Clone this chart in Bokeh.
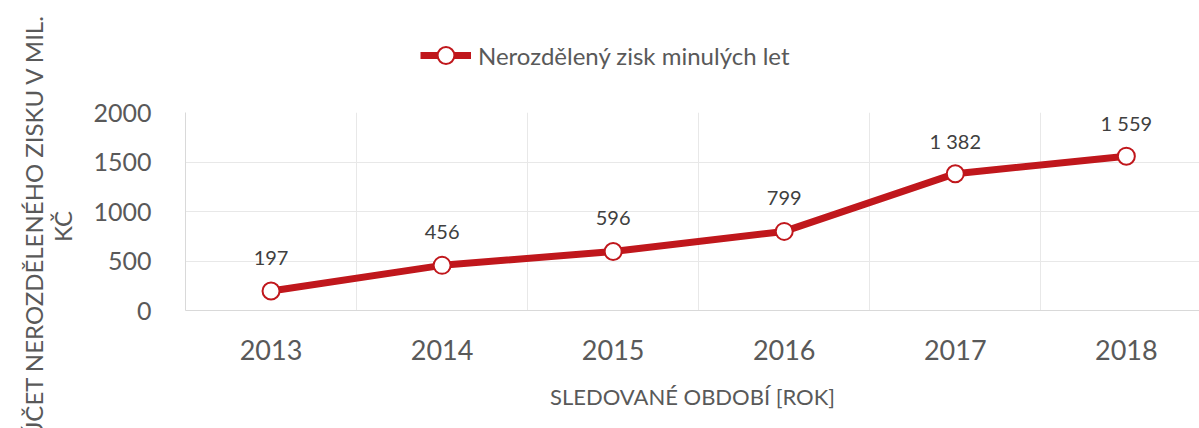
import math
from bokeh.plotting import figure
from bokeh.layouts import row, column
from bokeh.models import (Range1d, FixedTicker, LabelSet, Label, ColumnDataSource,
                          Legend, LegendItem)
from bokeh.core.properties import value
from bokeh.embed import file_html
from bokeh.resources import INLINE

years = [2013, 2014, 2015, 2016, 2017, 2018]
values = [197, 456, 596, 799, 1382, 1559]
value_labels = ["197", "456", "596", "799", "1 382", "1 559"]
y_ticks = [0, 500, 1000, 1500, 2000]
series_name = "Nerozdělený zisk minulých let"
x_title = "SLEDOVANÉ OBDOBÍ [ROK]"
y_title_lines = ["ÚČET NEROZDĚLENÉHO ZISKU V MIL.", "KČ"]

FONT = "Lato"
TXT = "#595959"
RED = "#C0171C"

W, H = 1199, 428
LBL_W = 90          # strip for the vertical axis title
LEG_H = 90          # strip for the legend
main_w = W - LBL_W
main_h = H - LEG_H
left, right, top, bottom = 93, 0, 22, 118
frame_w = main_w - left - right
px_per_year = 171.4


def bare(fig):
    fig.outline_line_color = None
    fig.background_fill_color = "white"
    fig.border_fill_color = "white"
    fig.xgrid.visible = False
    fig.ygrid.visible = False
    return fig


# ---- vertical axis title strip
lab = bare(figure(width=LBL_W, height=H, output_backend="svg", toolbar_location=None,
                  x_axis_location=None, y_axis_location=None,
                  min_border=0, x_range=Range1d(0, LBL_W), y_range=Range1d(0, H)))
for xpos, txt in zip([33, 62], y_title_lines):
    lab.add_layout(Label(x=xpos, y=H - 226, text=txt, angle=math.pi / 2,
                         text_align="center", text_baseline="middle",
                         text_font=FONT, text_font_size="24px",
                         text_color=TXT))

# ---- legend strip (series renderers kept outside the visible range; only the legend shows)
leg = bare(figure(width=main_w, height=LEG_H, output_backend="svg", toolbar_location=None,
                  x_axis_location=None, y_axis_location=None,
                  min_border=0, x_range=Range1d(0, 1), y_range=Range1d(-2, -1)))
lsrc = ColumnDataSource(dict(x=years, y=values))
lg_line = leg.line("x", "y", source=lsrc, line_color=RED, line_width=7)
lg_dot = leg.scatter("x", "y", source=lsrc, size=17, fill_color="white",
                     line_color=RED, line_width=2)
legend = Legend(items=[LegendItem(label=series_name, renderers=[lg_line, lg_dot])],
                location=(420 - LBL_W - 95, LEG_H - 55 - 21), orientation="horizontal",
                padding=0, margin=0, spacing=0,
                glyph_width=51, glyph_height=42, label_standoff=7,
                label_text_font=FONT, label_text_font_size="24px",
                label_text_color=TXT, border_line_color=None,
                background_fill_alpha=0)
leg.add_layout(legend, "center")

# ---- main chart
p = bare(figure(width=main_w, height=main_h, output_backend="svg", toolbar_location=None,
                min_border_left=left, min_border_right=right,
                min_border_top=top, min_border_bottom=bottom))
p.xgrid.visible = True
p.ygrid.visible = True
p.x_range = Range1d(years[0] - 0.5, years[0] - 0.5 + frame_w / px_per_year)
p.y_range = Range1d(0, 2000)

src = ColumnDataSource(dict(x=years, y=values, t=value_labels))
p.line("x", "y", source=src, line_color=RED, line_width=7)
p.scatter("x", "y", source=src, size=17, fill_color="white",
          line_color=RED, line_width=2)

p.add_layout(LabelSet(x="x", y="y", text="t", source=src, y_offset=33,
                      text_align="center", text_baseline="middle",
                      text_font=value(FONT), text_font_size="20px",
                      text_color="#404040"))

p.xaxis.ticker = FixedTicker(ticks=years)
p.xaxis.major_label_overrides = {y: str(y) for y in years}
p.yaxis.ticker = FixedTicker(ticks=y_ticks)
for ax in (p.xaxis, p.yaxis):
    ax.major_tick_line_color = None
    ax.minor_tick_line_color = None
    ax.axis_line_color = "#D9D9D9"
    ax.axis_line_width = 1
    ax.major_label_text_font = FONT
    ax.major_label_text_color = TXT
    ax.axis_label_text_font = FONT
    ax.axis_label_text_color = TXT
    ax.axis_label_text_font_style = "normal"
p.xaxis.major_label_text_font_size = "27px"
p.yaxis.major_label_text_font_size = "25px"
p.xaxis.major_label_standoff = 23
p.yaxis.major_label_standoff = 28
p.xaxis.axis_label = x_title
p.xaxis.axis_label_text_font_size = "22px"
p.xaxis.axis_label_standoff = 20

p.xgrid.ticker = FixedTicker(ticks=[y + 0.5 for y in years[:-1]])
p.xgrid.grid_line_color = "#E8E8E8"
p.ygrid.grid_line_color = "#E8E8E8"

layout = row(lab, column(leg, p, spacing=0), spacing=0)
open("out.html", "w").write(file_html(layout, INLINE))
